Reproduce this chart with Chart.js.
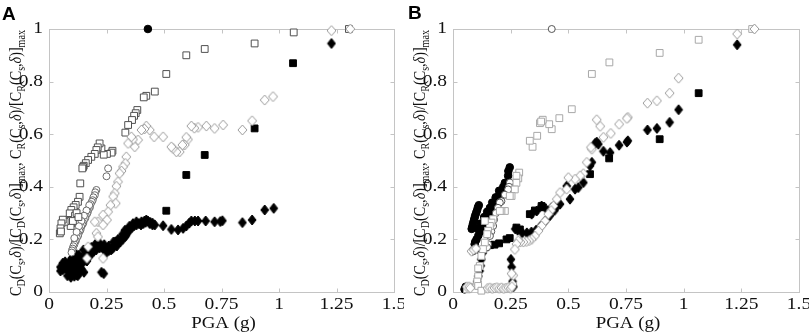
<!DOCTYPE html>
<html><head><meta charset="utf-8">
<script src="https://cdn.jsdelivr.net/npm/chart.js@4/dist/chart.umd.min.js"></script>
<style>
html,body{margin:0;padding:0;background:#fff;overflow:hidden}
#wrap{position:relative;width:809px;height:336px}
canvas{position:absolute;top:0}
#ca{left:0}
#cb{left:404px}
</style></head><body>
<div id="wrap"><canvas id="ca" width="404" height="336"></canvas><canvas id="cb" width="405" height="336"></canvas></div>
<script>
// ---------- tick labels ----------
const xTicks = [0, 0.25, 0.5, 0.75, 1, 1.25, 1.5];
const yTicks = [0, 0.2, 0.4, 0.6, 0.8, 1];
const panelLabels = ['A', 'B'];
const xTitle = 'PGA (g)';

// ---------- Panel A series : [PGA, normalised value] ----------
const aFilledCircle = [[0.43, 1.0]];
const aOpenCircle = [
  [0.257,0.47],[0.25,0.44],[0.206,0.388],[0.201,0.379],[0.199,0.368],[0.193,0.36],[0.19,0.349],[0.186,0.343],
  [0.181,0.334],[0.178,0.322],[0.173,0.316],[0.169,0.305],[0.166,0.298],[0.16,0.29],[0.158,0.281],[0.152,0.273],
  [0.149,0.262],[0.145,0.256],[0.14,0.247],[0.137,0.236],[0.133,0.231],[0.128,0.22],[0.126,0.213],[0.121,0.206],
  [0.117,0.195],[0.113,0.19],[0.11,0.181],[0.106,0.174],[0.103,0.165],[0.1,0.158],[0.098,0.15],
  [0.175,0.33],[0.163,0.31],[0.152,0.29],[0.141,0.27],[0.13,0.25],[0.12,0.228],[0.11,0.205]
];
const aOpenSquare = [
  [1.304,1.0],[1.064,0.987],[0.894,0.945],[0.677,0.924],[0.597,0.9],[0.51,0.829],[0.46,0.762],[0.423,0.746],
  [0.412,0.74],[0.384,0.692],[0.377,0.68],[0.37,0.67],[0.361,0.654],[0.344,0.635],[0.332,0.606],
  [0.276,0.537],[0.272,0.53],[0.252,0.525],[0.238,0.522],[0.228,0.546],[0.22,0.565],[0.212,0.55],[0.206,0.54],
  [0.199,0.525],[0.184,0.514],[0.17,0.502],[0.16,0.49],[0.151,0.48],[0.148,0.475],[0.145,0.47],
  [0.136,0.413],[0.133,0.362],[0.126,0.343],[0.116,0.331],[0.107,0.322],[0.097,0.312],[0.09,0.299],[0.113,0.29],
  [0.097,0.261],[0.094,0.251],[0.083,0.274],[0.075,0.27],[0.068,0.267],[0.06,0.275],[0.054,0.261],[0.05,0.242],
  [0.047,0.223],[0.052,0.23],[0.104,0.27],[0.12,0.3],[0.128,0.285]
];
const aFilledSquare = [
  [1.061,0.87],[0.894,0.622],[0.677,0.521],[0.597,0.445],[0.51,0.309],
  [0.06,0.09],[0.1,0.085],[0.2,0.17],[0.3,0.195]
];
const aOpenDiamond = [
  [1.31,1.0],[1.228,0.994],[0.974,0.743],[0.938,0.73],[0.883,0.651],[0.841,0.616],[0.757,0.635],[0.72,0.622],
  [0.684,0.631],[0.648,0.626],[0.632,0.623],[0.619,0.631],[0.604,0.58],[0.597,0.588],[0.59,0.559],[0.58,0.559],
  [0.568,0.533],[0.554,0.533],[0.539,0.546],[0.532,0.552],[0.496,0.59],[0.457,0.59],[0.438,0.616],[0.423,0.631],
  [0.415,0.62],[0.402,0.616],[0.387,0.578],[0.373,0.552],[0.365,0.58],[0.358,0.59],[0.344,0.565],[0.336,0.514],
  [0.332,0.489],[0.322,0.476],[0.315,0.46],[0.307,0.451],[0.3,0.419],[0.293,0.402],[0.286,0.375],[0.279,0.363],
  [0.29,0.337],[0.267,0.33],[0.257,0.305],[0.235,0.293],[0.252,0.274],[0.213,0.267],[0.199,0.267],[0.235,0.255],
  [0.206,0.223],[0.213,0.21],[0.17,0.172],[0.165,0.128],[0.235,0.128]
];
const aFilledDiamond = [
  [1.228,0.945],[0.977,0.318],[0.938,0.312],[0.883,0.274],[0.841,0.264],[0.754,0.271],[0.745,0.268],[0.72,0.267],
  [0.681,0.27],[0.648,0.27],[0.634,0.27],[0.619,0.27],[0.61,0.262],[0.597,0.251],[0.583,0.242],[0.561,0.236],
  [0.532,0.238],[0.496,0.252],[0.46,0.255],[0.45,0.262],[0.438,0.26],[0.423,0.274],[0.415,0.27],[0.402,0.267],
  [0.38,0.267],[0.365,0.26],
  [0.37,0.252],[0.36,0.245],[0.35,0.235],[0.345,0.24],[0.34,0.225],[0.335,0.215],[0.33,0.21],[0.32,0.2],
  [0.315,0.205],[0.31,0.19],[0.3,0.185],[0.295,0.175],[0.29,0.18],[0.28,0.17],[0.275,0.165],[0.27,0.16],
  [0.26,0.158],[0.255,0.165],[0.25,0.15],[0.245,0.165],[0.24,0.16],[0.235,0.172],[0.23,0.17],[0.225,0.175],
  [0.22,0.168],[0.215,0.17],[0.21,0.175],[0.205,0.16],[0.2,0.165],[0.195,0.155],[0.19,0.16],[0.185,0.148],
  [0.18,0.14],[0.175,0.15],[0.17,0.135],[0.165,0.14],[0.16,0.13],[0.155,0.12],[0.15,0.125],[0.145,0.11],
  [0.14,0.115],[0.135,0.1],[0.13,0.105],[0.125,0.09],[0.12,0.1],[0.115,0.085],[0.11,0.09],[0.105,0.075],
  [0.1,0.065],[0.1,0.08],[0.095,0.07],[0.09,0.08],[0.085,0.09],[0.08,0.085],[0.075,0.1],[0.07,0.09],
  [0.065,0.095],[0.06,0.085],[0.055,0.09],[0.05,0.08],[0.05,0.095],
  [0.152,0.075],[0.228,0.075],[0.238,0.07],[0.11,0.06],[0.12,0.065],[0.13,0.07],
  [0.3,0.2],[0.32,0.22],[0.33,0.235],[0.35,0.25],[0.28,0.19],[0.26,0.175],[0.24,0.18],[0.22,0.185],
  [0.2,0.18],[0.18,0.165],[0.16,0.15],[0.14,0.13],[0.12,0.12],[0.1,0.1],[0.08,0.1],[0.13,0.14],
  [0.15,0.16],[0.17,0.16],[0.38,0.255],[0.39,0.26],[0.4,0.255],[0.41,0.26],[0.42,0.265],[0.43,0.27],
  [0.44,0.265],[0.45,0.255],
  [0.06,0.11],[0.07,0.115],[0.08,0.062],[0.09,0.118],[0.1,0.128],[0.11,0.138],[0.12,0.142],[0.125,0.062],
  [0.14,0.088],[0.095,0.056],[0.105,0.112],[0.115,0.125],[0.135,0.125],[0.165,0.118],[0.185,0.17]
];

// ---------- Panel B series ----------
const bFilledCircle = [
  [0.246,0.474],[0.24,0.46],[0.239,0.442],[0.225,0.415],[0.218,0.4],[0.21,0.385],[0.203,0.375],[0.196,0.362],
  [0.19,0.35],[0.182,0.338],[0.174,0.327],[0.166,0.312],[0.158,0.3],[0.152,0.296],[0.145,0.28],[0.138,0.268],
  [0.13,0.258],[0.124,0.245],[0.118,0.23],[0.11,0.215],[0.102,0.2],[0.096,0.19],[0.094,0.182],
  [0.112,0.33],[0.108,0.322],[0.104,0.31],[0.1,0.3],[0.096,0.29],[0.093,0.28],[0.09,0.27],[0.087,0.26],
  [0.084,0.25],[0.081,0.24],[0.085,0.155],[0.09,0.16],[0.05,0.01],[0.055,0.02],
  [0.2,0.385],[0.185,0.36],[0.17,0.34],[0.16,0.32],[0.148,0.305],[0.135,0.285],[0.12,0.26],[0.108,0.24]
];
const bOpenCircle = [
  [0.428,1.0],[0.247,0.416],[0.243,0.4],[0.239,0.39],[0.225,0.37],[0.21,0.345],[0.203,0.34],[0.195,0.32],
  [0.186,0.3],[0.178,0.275],[0.174,0.251],[0.166,0.23],[0.16,0.213],[0.152,0.182],[0.148,0.17]
];
const bOpenSquare = [
  [1.297,1.0],[1.065,0.959],[0.896,0.909],[0.678,0.873],[0.602,0.829],[0.515,0.695],[0.461,0.661],[0.428,0.619],
  [0.417,0.638],[0.389,0.655],[0.377,0.642],[0.382,0.648],[0.365,0.594],[0.345,0.552],[0.333,0.575],
  [0.287,0.454],[0.283,0.432],[0.275,0.442],[0.275,0.415],[0.268,0.39],[0.254,0.365],[0.246,0.365],[0.225,0.308],
  [0.21,0.308],[0.203,0.308],[0.174,0.277],[0.167,0.264],[0.16,0.251],[0.152,0.233],[0.148,0.22],[0.138,0.27],
  [0.138,0.188],[0.13,0.163],[0.123,0.137],[0.116,0.099],[0.109,0.09],[0.109,0.06],[0.105,0.04],[0.109,0.023],
  [0.123,0.005],[0.07,0.02],[0.06,0.01]
];
const bFilledSquare = [
  [1.065,0.756],[0.896,0.581],[0.677,0.508],[0.594,0.448],[0.333,0.296],[0.355,0.31],[0.384,0.327],[0.39,0.322],
  [0.275,0.245],[0.29,0.238],[0.246,0.205],[0.232,0.2],[0.2,0.185],[0.18,0.18],[0.16,0.178],[0.14,0.17],[0.12,0.16]
];
const bOpenDiamond = [
  [1.307,1.0],[1.232,0.981],[0.978,0.813],[0.939,0.756],[0.884,0.727],[0.843,0.718],[0.758,0.664],[0.754,0.66],
  [0.72,0.638],[0.684,0.603],[0.652,0.588],[0.638,0.63],[0.623,0.655],[0.602,0.543],[0.598,0.55],[0.58,0.493],
  [0.565,0.45],[0.551,0.442],[0.529,0.429],[0.5,0.435],[0.493,0.391],[0.464,0.378],[0.45,0.353],[0.435,0.327],
  [0.425,0.31],[0.413,0.296],[0.399,0.27],[0.384,0.251],[0.37,0.232],[0.355,0.213],[0.341,0.2],[0.33,0.195],
  [0.318,0.192],[0.305,0.19],[0.292,0.19],[0.283,0.195],[0.275,0.182],[0.268,0.162],[0.261,0.063],[0.254,0.07],
  [0.258,0.03],
  [0.15,0.014],[0.16,0.016],[0.17,0.013],[0.18,0.015],[0.19,0.017],[0.2,0.014],[0.21,0.016],[0.22,0.013],
  [0.23,0.015],[0.24,0.017],[0.25,0.014],[0.255,0.02],
  [0.08,0.155],[0.09,0.16],[0.1,0.165],[0.06,0.02],[0.07,0.02],[0.075,0.015]
];
const bFilledDiamond = [
  [1.232,0.94],[0.978,0.693],[0.939,0.645],[0.884,0.622],[0.843,0.616],[0.758,0.575],[0.754,0.57],[0.72,0.558],
  [0.681,0.53],[0.652,0.535],[0.63,0.562],[0.623,0.57],[0.616,0.565],[0.602,0.493],[0.594,0.48],[0.565,0.416],
  [0.543,0.397],[0.529,0.391],[0.507,0.353],[0.493,0.403],[0.464,0.334],[0.45,0.325],[0.428,0.321],[0.41,0.31],
  [0.384,0.327],[0.363,0.308],[0.341,0.296],
  [0.44,0.31],[0.42,0.29],[0.4,0.27],[0.38,0.25],[0.36,0.235],[0.34,0.228],[0.32,0.225],[0.3,0.225],[0.28,0.235],[0.27,0.24],
  [0.251,0.124],[0.254,0.095],[0.258,0.04],[0.262,0.02],
  [0.13,0.15],[0.123,0.124],[0.12,0.1],[0.115,0.08],[0.11,0.06],[0.105,0.04]
];

// ---------- styling ----------
const FRAME = '#c4c4c4';
const serif = '"Liberation Serif", "Times New Roman", serif';
const SX = 1.18;   // horizontal stretch of the printed figure's lettering

function diamondImg(w, h, fill, stroke) {
  const c = document.createElement('canvas');
  c.width = w + 2; c.height = h + 2;
  const g = c.getContext('2d');
  const cx = c.width / 2, cy = c.height / 2;
  g.beginPath();
  g.moveTo(cx, 1); g.lineTo(c.width - 1, cy); g.lineTo(cx, c.height - 1); g.lineTo(1, cy); g.closePath();
  g.fillStyle = fill; g.fill();
  g.strokeStyle = stroke; g.lineWidth = 1; g.stroke();
  return c;
}

function mk(label, pts, style, r, fill, stroke, bw) {
  return {
    label, data: pts.map(p => ({x: p[0], y: p[1]})),
    pointStyle: style, pointRadius: r, pointHoverRadius: r,
    pointBackgroundColor: fill, pointBorderColor: stroke, pointBorderWidth: bw,
    showLine: false, clip: false
  };
}

function yTitleDraw(ctx, cx, cy, target) {
  const parts = [
    ['C',0],['D',1],['(C',0],['s',1],[',',0],['δ',2],[')/[C',0],['D',1],['(C',0],['s',1],[',',0],['δ',2],[')]',0],['max',1],
    [', C',0],['R',1],['(C',0],['s',1],[',',0],['δ',2],[')/[C',0],['R',1],['(C',0],['s',1],[',',0],['δ',2],[')]',0],['max',1]
  ];
  const base = 14, sub = 10;
  const fontOf = t => t === 1 ? `${sub}px ${serif}` : (t === 2 ? `italic ${base}px ${serif}` : `${base}px ${serif}`);
  let total = 0;
  for (const [s, t] of parts) { ctx.font = fontOf(t); total += ctx.measureText(s).width; }
  const k = target / total;
  ctx.save();
  ctx.translate(cx, cy);
  ctx.rotate(-Math.PI / 2);
  ctx.scale(k, 1.25);
  ctx.fillStyle = '#111';
  ctx.textBaseline = 'alphabetic';
  let x = -total / 2;
  for (const [s, t] of parts) {
    ctx.font = fontOf(t);
    ctx.fillText(s, x, t === 1 ? 3.2 : 0);
    x += ctx.measureText(s).width;
  }
  ctx.restore();
}

function stretchedText(ctx, txt, x, y, align, size, sx) {
  ctx.save();
  ctx.translate(x, y);
  ctx.scale(sx, 1);
  ctx.font = `${size}px ${serif}`;
  ctx.fillStyle = '#111';
  ctx.textAlign = align;
  ctx.textBaseline = 'middle';
  ctx.fillText(txt, 0, 0);
  ctx.restore();
}

const framePlugin = {
  id: 'frame',
  beforeDatasetsDraw(chart) {
    const {ctx, chartArea: a, scales: {x, y}} = chart;
    ctx.save();
    ctx.strokeStyle = FRAME; ctx.lineWidth = 1;
    const L = Math.round(a.left) + 0.5, R = Math.round(a.right) + 0.5, T = Math.round(a.top) + 0.5, B = Math.round(a.bottom) + 0.5;
    ctx.strokeRect(L, T, R - L, B - T);
    ctx.beginPath();
    const tl = 4;
    xTicks.forEach(v => {
      const px = Math.round(x.getPixelForValue(v)) + 0.5;
      ctx.moveTo(px, B); ctx.lineTo(px, B - tl);
      ctx.moveTo(px, T); ctx.lineTo(px, T + tl);
    });
    yTicks.forEach(v => {
      const py = Math.round(y.getPixelForValue(v)) + 0.5;
      ctx.moveTo(L, py); ctx.lineTo(L + tl, py);
      ctx.moveTo(R, py); ctx.lineTo(R - tl, py);
    });
    ctx.stroke();
    ctx.restore();
    // tick labels
    xTicks.forEach(v => stretchedText(ctx, String(v), x.getPixelForValue(v), 305, 'center', 16.5, SX));
    yTicks.forEach(v => stretchedText(ctx, String(v), a.left - 6, y.getPixelForValue(v), 'right', 16.5, SX));
    // axis titles
    stretchedText(ctx, xTitle, (a.left + a.right) / 2 + 2, 323, 'center', 17.5, 1.08);
    yTitleDraw(ctx, 21, 163, 266);
  },
  afterDraw(chart, args, opts) {
    const ctx = chart.ctx;
    ctx.save();
    ctx.fillStyle = '#000';
    ctx.font = `bold 19px "Liberation Sans", Arial, sans-serif`;
    ctx.textBaseline = 'alphabetic';
    ctx.fillText(opts.letter, opts.lx, opts.ly);
    ctx.restore();
  }
};

function makeChart(id, letter, lx, ly, series) {
  const [fc, oc, os, fs, od, fd, colors] = series;
  const datasets = [
    mk('open diamond', od, diamondImg(9, 10, '#fff', colors.od), 5, '#fff', colors.od, 1),
    mk('open square', os, 'rect', 4.8, '#fff', colors.os, 1),
    mk('open circle', oc, 'circle', 3.5, '#fff', colors.oc, 1),
    mk('filled circle', fc, 'circle', 3.8, '#000', '#000', 1),
    mk('filled square', fs, 'rect', 4.8, '#000', '#000', 1),
    mk('filled diamond', fd, diamondImg(8, 10, '#000', '#000'), 5, '#000', '#000', 1)
  ];
  return new Chart(document.getElementById(id), {
    type: 'scatter',
    data: {datasets},
    options: {
      responsive: false, animation: false, devicePixelRatio: 1,
      layout: {padding: {top: 29, right: 10, left: 0, bottom: 0}},
      plugins: {legend: {display: false}, tooltip: {enabled: false}, frame: {letter, lx, ly}},
      scales: {
        x: {
          type: 'linear', min: 0, max: 1.5,
          grid: {display: false, drawTicks: false}, border: {display: false},
          afterBuildTicks: s => { s.ticks = xTicks.map(v => ({value: v})); },
          afterFit: s => { s.height = 44; },
          ticks: {display: false}
        },
        y: {
          type: 'linear', min: 0, max: 1,
          grid: {display: false, drawTicks: false}, border: {display: false},
          afterBuildTicks: s => { s.ticks = yTicks.map(v => ({value: v})); },
          afterFit: s => { s.width = 49; },
          ticks: {display: false}
        }
      }
    },
    plugins: [framePlugin]
  });
}

makeChart('ca', panelLabels[0], 2, 20, [aFilledCircle, aOpenCircle, aOpenSquare, aFilledSquare, aOpenDiamond, aFilledDiamond,
  {oc: '#6a6a6a', os: '#505050', od: '#9a9a9a'}]);
makeChart('cb', panelLabels[1], 4, 19, [bFilledCircle, bOpenCircle, bOpenSquare, bFilledSquare, bOpenDiamond, bFilledDiamond,
  {oc: '#555555', os: '#a8a8a8', od: '#9a9a9a'}]);
</script>
</body></html>
